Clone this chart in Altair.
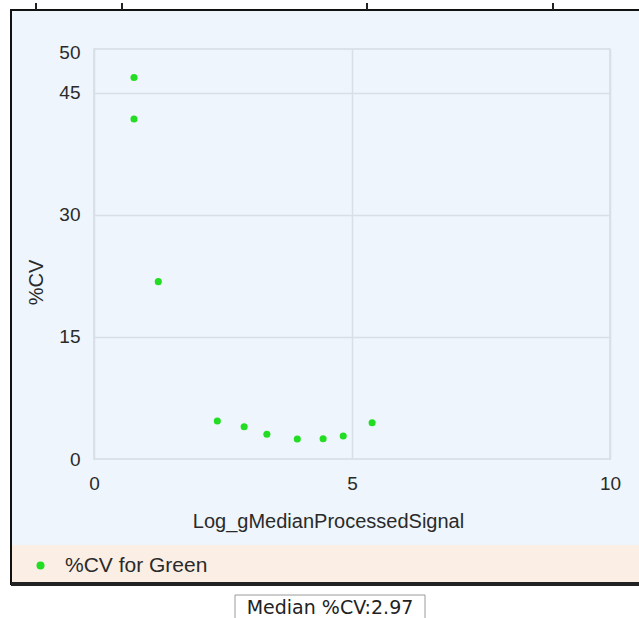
import altair as alt
import pandas as pd

# ---- data ----
log_signal = [0.775, 0.775, 1.246, 2.39, 2.91, 3.35, 3.94, 4.44, 4.83, 5.39]
cv_percent = [46.9, 41.8, 21.8, 4.67, 3.97, 3.04, 2.46, 2.50, 2.83, 4.46]
series_name = "%CV for Green"
y_ticks = [0, 15, 30, 45, 50]
x_ticks = [0, 5, 10]
median_label = "Median %CV:2.97"

W, H = 516, 410
PAD_L, PAD_T = 94, 49

df = pd.DataFrame({"x": log_signal, "cv": cv_percent, "series": [series_name] * len(log_signal)})

FONT = "Liberation Sans"
TXT = "#2a2a2a"
BG = "#eef5fc"

def box(x1, x2, y1, y2, **kw):
    return alt.Chart(pd.DataFrame({"a": [0]})).mark_rect(**kw).encode(
        x=alt.value(x1 - PAD_L), x2=alt.value(x2 - PAD_L),
        y=alt.value(y1 - PAD_T), y2=alt.value(y2 - PAD_T))

white_top = box(0, 700, 0, 10, fill="white")
white_left = box(0, 10, 0, 700, fill="white")
white_bottom = box(0, 700, 585, 700, fill="white")
peach = box(12, 700, 545, 583, fill="#fbeee5")
frame = box(11, 700, 10, 584, fill=None, stroke="#111111", strokeWidth=2)
frame_bottom = box(11, 700, 582, 586, fill="#222222")

tick_layers = [
    alt.Chart(pd.DataFrame({"a": [0]})).mark_rule(color="#222222", strokeWidth=2).encode(
        x=alt.value(p - PAD_L), y=alt.value(3 - PAD_T), y2=alt.value(10 - PAD_T))
    for p in [36, 122, 367, 553]
]

median_box = box(235, 425, 595, 622, fill="white", stroke="#9a9a9a", strokeWidth=1)
median_text = alt.Chart(pd.DataFrame({"t": [median_label]})).mark_text(
    font="DejaVu Sans", fontSize=19, color="#222222", align="center", baseline="middle"
).encode(text="t:N", x=alt.value(330 - PAD_L), y=alt.value(608 - PAD_T))

points = alt.Chart(df).mark_circle(size=50, opacity=1).encode(
    x=alt.X("x:Q", scale=alt.Scale(domain=[0, 10], nice=False),
            axis=alt.Axis(values=x_ticks, title="Log_gMedianProcessedSignal", grid=True,
                          domain=False, ticks=False, labelPadding=15, labelFontSize=19,
                          labelFont=FONT, labelColor=TXT, titleFont=FONT, titleFontSize=20,
                          titleFontWeight="normal", titleColor=TXT, titleX=234, titleY=62,
                          titleBaseline="middle", gridColor="#d9dfe7", gridWidth=1.5,
                          labelFlush=False, zindex=1)),
    y=alt.Y("cv:Q", scale=alt.Scale(domain=[0, 50.4], nice=False, zero=True),
            axis=alt.Axis(values=y_ticks, title="%CV", grid=True, domain=False, ticks=False,
                          labelPadding=14, labelFontSize=19, labelFont=FONT, labelColor=TXT,
                          titleFont=FONT, titleFontSize=20, titleFontWeight="normal",
                          titleColor=TXT, titleX=-58, titleY=233, titleAlign="center",
                          titleBaseline="middle", gridColor="#d9dfe7", gridWidth=1.5,
                          gridOpacity={"condition": {"test": "datum.value == 50 || datum.value == 0", "value": 0}, "value": 1},
                          labelFlush=False, zindex=1)),
    color=alt.Color("series:N", scale=alt.Scale(range=["#22dd22"]),
                    legend=alt.Legend(orient="none", legendX=-64, legendY=506, title=None,
                                      labelFontSize=21, labelFont=FONT, labelColor=TXT,
                                      symbolSize=64, symbolType="circle", symbolStrokeWidth=0,
                                      labelOffset=14, zindex=1)),
)

chart = alt.layer(
    white_top, white_left, white_bottom, peach, frame, frame_bottom, *tick_layers,
    median_box, median_text, points
).properties(
    width=W, height=H,
    autosize=alt.AutoSizeParams(type="none"),
    padding={"left": PAD_L, "top": PAD_T, "right": 639 - PAD_L - W, "bottom": 618 - PAD_T - H},
    background=BG,
).configure_view(stroke="#d5dbe3", strokeWidth=1.5, fill=None)

chart.save("out.html", embed_options={"renderer": "svg", "actions": False})
